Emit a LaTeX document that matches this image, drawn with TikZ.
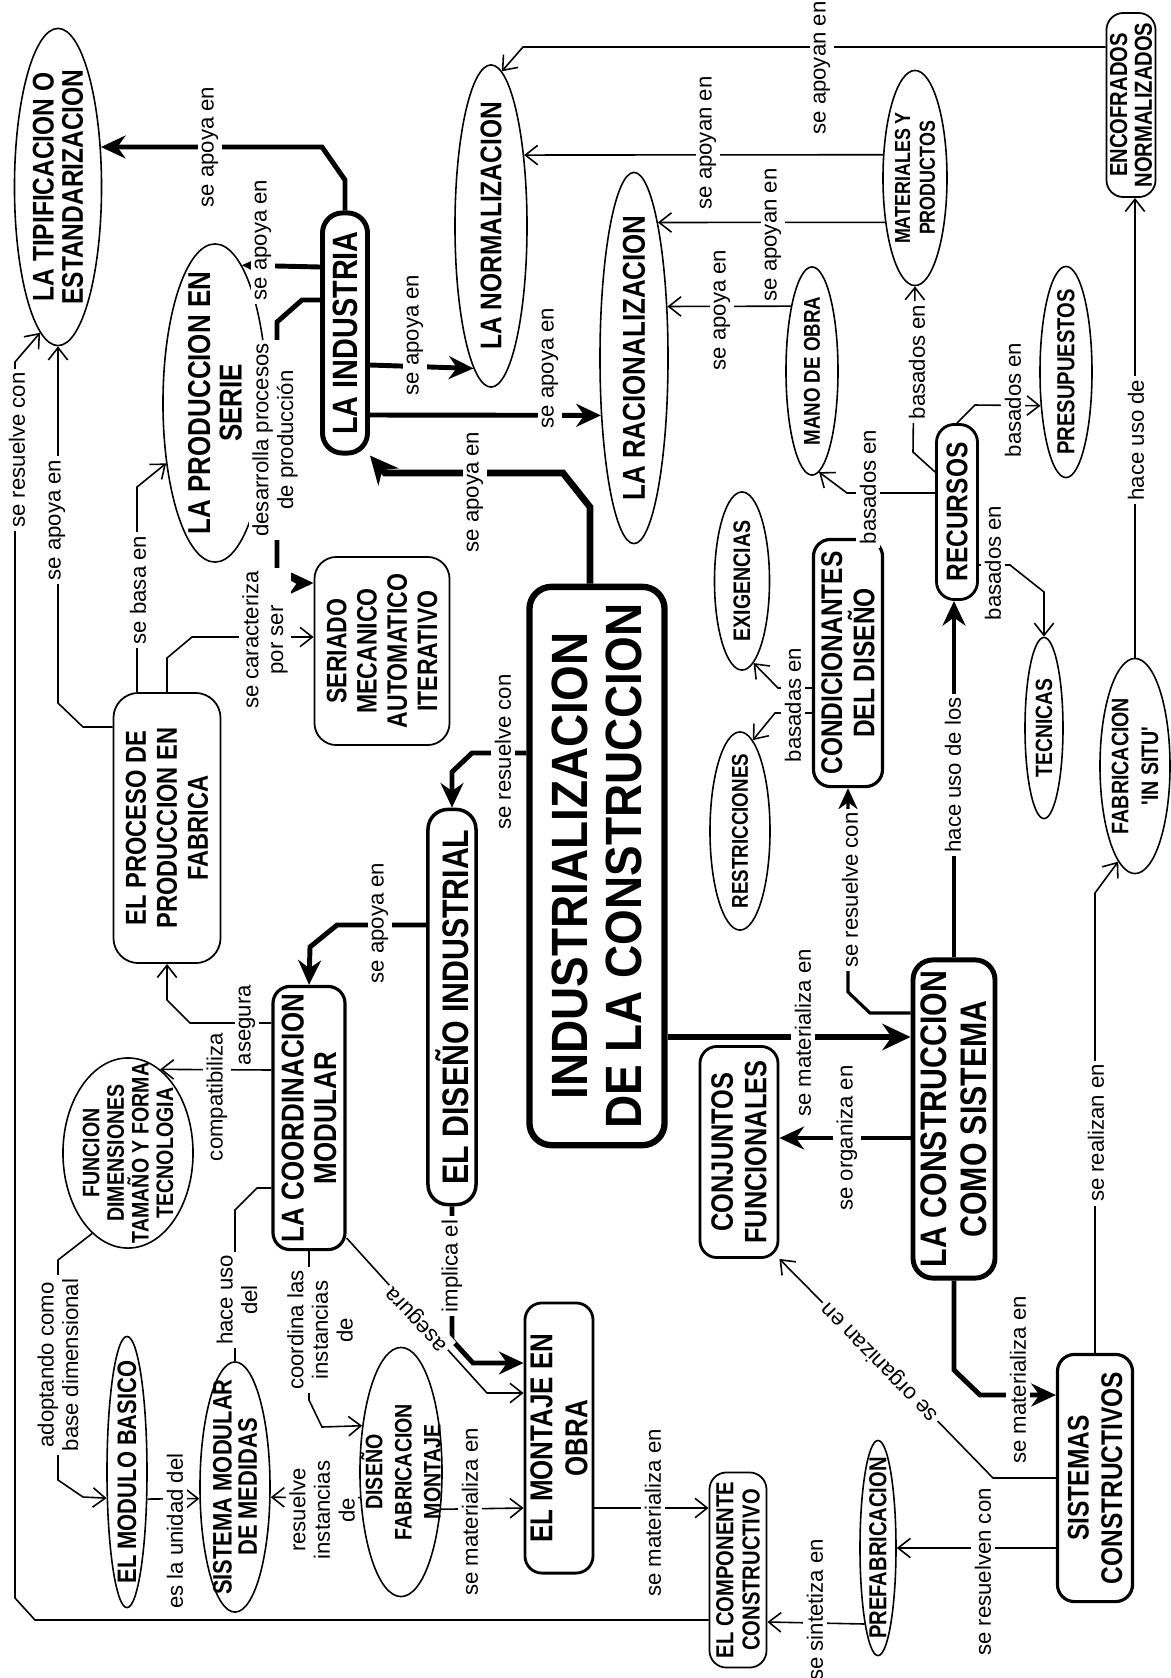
\documentclass[tikz,border=0pt]{standalone}
\usepackage{fontspec}
\setmainfont{Liberation Sans}
\newfontfamily\condfont[FakeStretch=0.82]{Liberation Sans}
\newfontfamily\semifont[FakeStretch=0.9]{Liberation Sans}
\usetikzlibrary{shapes.geometric, arrows.meta}
\pgfdeclarelayer{bg}
\pgfsetlayers{bg,main}

\tikzset{
	concept/.style={rotate=90, align=center, draw, fill=white},
	sz/.style 2 args={minimum height=#1cm, minimum width=#2cm},
	nf/.style 2 args={font=\condfont\bfseries\fontsize{#1}{#2}\selectfont},
	ell/.style={concept, ellipse, line width=0.45pt, inner sep=-0.5cm},
	rbox/.style={concept, rectangle, rounded corners=0.17cm, inner sep=1pt, line width=0.5pt},
	lblbase/.style={fill=white, inner sep=1pt, align=center, font=\fontsize{6.3}{7}\selectfont},
	lbl/.style={lblbase, rotate=90},
	thn/.style={line width=0.45pt, -{Straight Barb[length=3.5pt, width=5.5pt]}},
	med/.style={line width=0.9pt, -{Stealth[length=6pt, width=5.5pt]}},
	thk/.style={line width=1.4pt, -{Stealth[length=7pt, width=6.5pt]}},
	thkk/.style={line width=1.9pt, -{Stealth[length=8pt, width=7.5pt]}}
}

\begin{document}
\begin{tikzpicture}[x=0.01cm, y=-0.01cm]
	\useasboundingbox (0,0) rectangle (1171,1678);

	% --- concepts ---
	\node[ell, sz={0.87}{3.17}, nf={8.5}{8.3}] (tipif) at (58,187) {LA TIPIFICACION O\\ESTANDARIZACION};
	\node[ell, sz={1.04}{3.18}, nf={9}{9}] (serie) at (215,403) {LA PRODUCCION EN\\SERIE};
	\node[rbox, sz={0.45}{2.40}, nf={10}{10}, line width=1.4pt, rounded corners=0.2cm] (ind) at (345,333) {LA INDUSTRIA};
	\node[ell, sz={0.72}{3.22}, nf={8.5}{9}] (norm) at (491,226) {LA NORMALIZACION};
	\node[ell, sz={0.68}{3.71}, nf={9}{9}] (racio) at (634,358) {LA RACIONALIZACION};
	\node[rbox, sz={0.47}{1.84}, nf={7}{7}] (encof) at (1131,105) {ENCOFRADOS\\NORMALIZADOS};
	\node[ell, sz={0.64}{2.15}, nf={6.2}{7}] (mater) at (915,178) {MATERIALES Y\\PRODUCTOS};
	\node[ell, sz={0.52}{2.08}, nf={6.5}{7}] (mano) at (812,371) {MANO DE OBRA};
	\node[ell, sz={0.52}{2.11}, nf={7}{7}] (presu) at (1066,372) {PRESUPUESTOS};
	\node[rbox, sz={0.41}{1.75}, nf={8.5}{8.5}, line width=0.8pt, rounded corners=0.18cm] (recur) at (957,512) {RECURSOS};
	\node[ell, sz={0.38}{1.81}, nf={6.7}{7}] (tecni) at (1044,728) {TECNICAS};
	\node[ell, sz={0.70}{2.15}, nf={6.8}{8.5}] (insitu) at (1135,766) {FABRICACION\\'IN SITU'};
	\node[rbox, sz={0.69}{2.47}, nf={8.5}{9.2}, line width=0.9pt] (condi) at (848,663) {CONDICIONANTES\\DEL DISEÑO};
	\node[ell, sz={0.55}{1.78}, nf={6.8}{7}] (exig) at (742,581) {EXIGENCIAS};
	\node[ell, sz={0.60}{1.98}, nf={6.5}{7}] (restr) at (740,831) {RESTRICCIONES};
	\node[rbox, sz={1.35}{1.88}, nf={8}{8.6}, rounded corners=0.22cm] (seriado) at (382,651) {SERIADO\\MECANICO\\AUTOMATICO\\ITERATIVO};
	\node[rbox, sz={1.07}{2.70}, nf={8.2}{8.8}, rounded corners=0.25cm] (proceso) at (167,828) {EL PROCESO DE\\PRODUCCION EN\\FABRICA};
	\node[rbox, sz={1.35}{5.58}, font=\semifont\bfseries\fontsize{14.5}{15.5}\selectfont, line width=1.8pt, rounded corners=0.22cm] (indus) at (597,866) {INDUSTRIALIZACION\\DE LA CONSTRUCCION};
	\node[rbox, sz={0.48}{3.95}, nf={10.5}{10.5}, line width=1pt, rounded corners=0.2cm] (disenoind) at (452,1007) {EL DISEÑO INDUSTRIAL};
	\node[rbox, sz={0.72}{2.63}, nf={9}{9.3}, line width=0.9pt] (coord) at (309,1118) {LA COORDINACION\\MODULAR};
	\node[ell, sz={1.30}{1.90}, nf={6.8}{7}] (funcion) at (128,1153) {FUNCION\\DIMENSIONES\\TAMAÑO Y FORMA\\TECNOLOGIA};
	\node[ell, sz={0.40}{2.71}, nf={7.6}{8}] (modulo) at (127,1472) {EL MODULO BASICO};
	\node[ell, sz={0.70}{2.50}, nf={7.6}{7.2}] (sistmed) at (235,1487) {SISTEMA MODULAR\\DE MEDIDAS};
	\node[ell, sz={0.82}{2.49}, nf={6.8}{8.3}] (disfab) at (401,1472) {DISEÑO\\FABRICACION\\MONTAJE};
	\node[rbox, sz={0.68}{2.70}, nf={9}{10}, line width=0.8pt] (montaje) at (559,1438) {EL MONTAJE EN\\OBRA};
	\node[rbox, sz={0.57}{1.95}, nf={7}{7.5}] (compon) at (738,1570) {EL COMPONENTE\\CONSTRUCTIVO};
	\node[ell, sz={0.36}{2.15}, nf={7}{7}] (prefab) at (878,1548) {PREFABRICACION};
	\node[rbox, sz={0.75}{2.47}, nf={8.5}{9.5}, line width=0.9pt] (sistcons) at (1095,1478) {SISTEMAS\\CONSTRUCTIVOS};
	\node[rbox, sz={0.82}{3.18}, nf={10.5}{11.5}, line width=1.4pt, rounded corners=0.2cm] (constsis) at (954,1119) {LA CONSTRUCCION\\COMO SISTEMA};
	\node[rbox, sz={0.78}{2.11}, nf={8.8}{9.5}, line width=0.8pt] (conjun) at (739,1152) {CONJUNTOS\\FUNCIONALES};

	% --- link labels ---
	\node[lbl] (lab1) at (475,492) {se apoya en};
	\node[lbl] (lab2) at (210,147) {se apoya en};
	\node[lbl] (lab3) at (263,240) {se apoya en};
	\node[lbl] (lab4) at (275,440) {desarrolla procesos\\de producción};
	\node[lbl] (lab5) at (415,335) {se apoya en};
	\node[lbl] (lab6) at (550,368) {se apoya en};
	\node[lbl] (lab7) at (722,310) {se apoya en};
	\node[lbl] (lab8) at (773,235) {se apoyan en};
	\node[lbl] (lab9) at (708,143) {se apoyan en};
	\node[lbl] (lab10) at (822,68) {se apoyan en};
	\node[lbl] (lab11) at (868,487) {basados en};
	\node[lbl] (lab12) at (917,362) {basados en};
	\node[lbl] (lab13) at (1013,400) {basados en};
	\node[lbl] (lab14) at (993,563) {basados en};
	\node[lbl] (lab15) at (953,775) {hace uso de los};
	\node[lbl] (lab16) at (803,1033) {se materializa en};
	\node[lbl] (lab17) at (847,1138) {se organiza en};
	\node[lbl] (lab18) at (850,890) {se resuelve con};
	\node[lbl] (lab19) at (793,705) {basadas en};
	\node[lbl] (lab20) at (503,752) {se resuelve con};
	\node[lbl] (lab21) at (380,923) {se apoya en};
	\node[lbl] (lab22) at (247,1025) {asegura};
	\node[lbl] (lab23) at (217,1097) {compatibiliza};
	\node[lbl] (lab24) at (237,1300) {hace uso\\del};
	\node[lbl] (lab25) at (320,1330) {coordina las\\instancias\\de};
	\node[lblbase, rotate=132.5] (lab26) at (418,1318) {asegura};
	\node[lblbase, rotate=134] (lab27) at (880,1362) {se organizan en};
	\node[lbl] (lab28) at (1018,1380) {se materializa en};
	\node[lbl] (lab29) at (1096,1133) {se realizan en};
	\node[lbl] (lab30) at (1136,440) {hace uso de};
	\node[lbl] (lab31) at (983,1572) {se resuelven con};
	\node[lbl] (lab32) at (815,1610) {se sintetiza en};
	\node[lbl] (lab33) at (653,1513) {se materializa en};
	\node[lbl] (lab34) at (17,450) {se resuelve con};
	\node[lbl] (lab35) at (57,520) {se apoya en};
	\node[lbl] (lab36) at (138,590) {se basa en};
	\node[lbl] (lab37) at (265,640) {se caracteriza\\por ser};
	\node[lbl] (lab38) at (58,1365) {adoptando como\\base dimensional};
	\node[lbl] (lab39) at (175,1531) {es la unidad del};
	\node[lbl] (lab40) at (322,1510) {resuelve\\instancias\\de};
	\node[lbl] (lab41) at (470,1512) {se materializa en};
	\node[lbl] (lab42) at (452,1266) {implica el};

	% --- links ---
	\begin{pgfonlayer}{bg}
		\draw[thkk] (590,0 |- indus.east) -- (590,507) -- (563,473) -- (385,473) -- (ind.south west);
		\draw[thk] (ind.east) -- (345,180) -- (322,147) -- (tipif.-47);
		\draw[thk] (ind.north |- 0,267) -- (serie.-11);
		\draw[thk] (ind.north |- 0,300) -- (302,300) -- (277,322) -- (277,570) -- (300,583) -- (seriado.north |- 0,583);
		\draw[thk] (ind.south |- 0,365) -- (norm.173);
		\draw[thk] (ind.south |- 0,415) -- (racio.150);
		\draw[thn] (mano.18) -- (racio.-33);
		\draw[thn] (mater.146) -- (racio.-10);
		\draw[thn] (mater.54) -- (norm.-25);
		\draw[thn] (encof.north |- 0,47) -- (523,47) -- (norm.-4);
		\draw[thn] (recur.north |- 0,493) -- (847,493) -- (mano.-176);
		\draw[thn] (recur.north |- 0,472) -- (913,452) -- (mater.west);
		\draw[thn] (recur.east) -- (975,405) -- (presu.143);
		\draw[thn] (recur.south |- 0,565) -- (1010,565) -- (1044,592) -- (tecni.east);
		\draw[thk] (constsis.east) -- (constsis.east |- recur.west);
		\draw[thkk] (indus.south |- 0,1037) -- (constsis.north |- 0,1037);
		\draw[thk] (constsis.north |- 0,1138) -- (conjun.south |- 0,1138);
		\draw[med] (constsis.north |- 0,1013) -- (870,1013) -- (848,992) -- (condi.west);
		\draw[thn] (condi.north |- 0,688) -- (778,688) -- (exig.-172);
		\draw[thn] (condi.north |- 0,713) -- (775,713) -- (restr.-8);
		\draw[thk] (indus.north |- 0,753) -- (472,753) -- (452,772) -- (disenoind.east);
		\draw[thk] (disenoind.north |- 0,925) -- (337,925) -- (310,947) -- (coord.east);
		\draw[thn] (coord.north |- 0,1023) -- (190,1023) -- (167,1000) -- (proceso.west);
		\draw[thn] (coord.north |- 0,1070) -- (funcion.-21);
		\draw[line width=0.45pt] (coord.north |- 0,1188) -- (257,1188) -- (sistmed.east |- 0,1210) -- (sistmed.east);
		\draw[thn] (coord.west) -- (309,1400) -- (322,1427) -- (disfab.40);
		\draw[thn] (coord.south |- 0,1238) -- (487,1393) -- (montaje.north |- 0,1393);
		\draw[thk] (disenoind.west) -- (452,1340) -- (473,1363) -- (montaje.north |- 0,1363);
		\draw[thk] (constsis.west) -- (954,1370) -- (980,1395) -- (sistcons.north |- 0,1395);
		\draw[thn] (sistcons.east) -- (sistcons.east |- 0,893) -- (insitu.170);
		\draw[thn] (insitu.east) -- (insitu.east |- encof.west);
		\draw[thn] (sistcons.north |- prefab.south) -- (prefab.south);
		\draw[thn] (prefab.170) -- (compon.south |- 0,1622);
		\draw[thn] (montaje.south |- 0,1508) -- (compon.north |- 0,1508);
		\draw[thn] (compon.north |- 0,1620) -- (35,1620) -- (15,1598) -- (15,362) -- (tipif.173);
		\draw[thn] (proceso.north |- 0,727) -- (83,727) -- (58,703) -- (tipif.west);
		\draw[thn] (137,0 |- proceso.east) -- (137,487) -- (serie.141);
		\draw[thn] (proceso.east) -- (167,658) -- (192,637) -- (seriado.north |- 0,637);
		\draw[thn] (funcion.156) -- (58,1260) -- (58,1480) -- (83,1497) -- (modulo.142);
		\draw[thn] (modulo.-143) -- (sistmed.108);
		\draw[thn] (disfab.122) -- (sistmed.-106);
		\draw[thn] (disfab.-133) -- (montaje.north |- 0,1508);
		\draw[thn] (sistcons.north |- 0,1478) -- (993,1478) -- (823,1303) -- (conjun.south west);
	\end{pgfonlayer}

\end{tikzpicture}
\end{document}
